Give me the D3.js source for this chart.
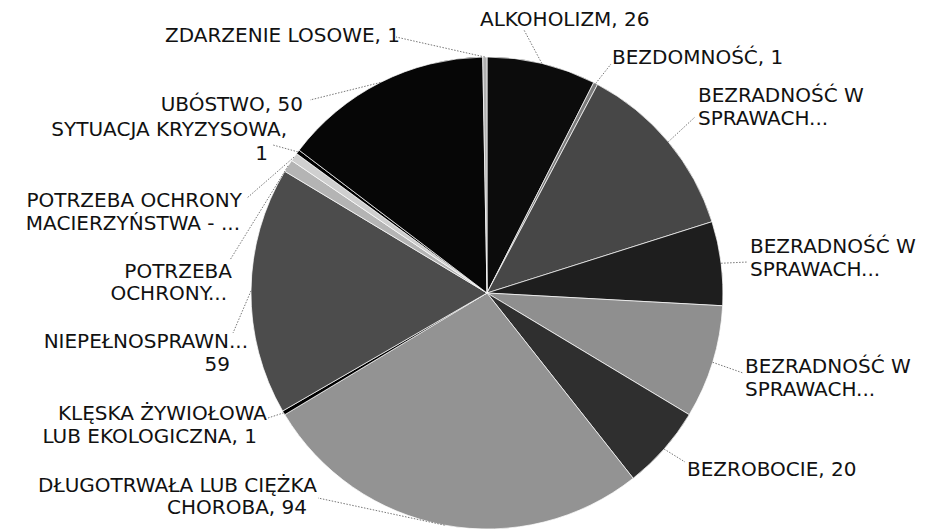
<!DOCTYPE html>
<html>
<head>
<meta charset="utf-8">
<script src="https://cdn.jsdelivr.net/npm/d3@7"></script>
<style>
  body { margin: 0; background: #fff; }
  text { font-family: "DejaVu Sans", sans-serif; font-size: 20px; fill: #111; }
</style>
</head>
<body>
<div id="chart"></div>
<script>
// Data, clockwise from 12 o'clock
const categories = [
    "ALKOHOLIZM", "BEZDOMNOŚĆ", "BEZRADNOŚĆ 1", "BEZRADNOŚĆ 2", "BEZRADNOŚĆ 3",
    "BEZROBOCIE", "DŁUGOTRWAŁA", "KLĘSKA", "NIEPEŁNOSPRAWNOŚĆ", "POTRZEBA OCHRONY",
    "POTRZEBA OCHRONY MACIERZYŃSTWA", "SYTUACJA KRYZYSOWA", "UBÓSTWO", "ZDARZENIE LOSOWE"
];
const values = [26, 1, 43, 20, 27, 20, 94, 1, 59, 3, 2, 1, 50, 1];
const labelLines = [
    ["ALKOHOLIZM, 26"],
    ["BEZDOMNOŚĆ, 1"],
    ["BEZRADNOŚĆ W", "SPRAWACH..."],
    ["BEZRADNOŚĆ W", "SPRAWACH..."],
    ["BEZRADNOŚĆ W", "SPRAWACH..."],
    ["BEZROBOCIE, 20"],
    ["DŁUGOTRWAŁA LUB CIĘŻKA", "CHOROBA, 94"],
    ["KLĘSKA ŻYWIOŁOWA", "LUB EKOLOGICZNA, 1"],
    ["NIEPEŁNOSPRAWN...", "59"],
    ["POTRZEBA", "OCHRONY..."],
    ["POTRZEBA OCHRONY", "MACIERZYŃSTWA - ..."],
    ["SYTUACJA KRYZYSOWA,", "1"],
    ["UBÓSTWO, 50"],
    ["ZDARZENIE LOSOWE, 1"]
];
// grey fills (the source was a greyscale print)
const sliceColors = [
    "#0c0c0c", "#7a7a7a", "#474747", "#1e1e1e", "#8f8f8f", "#2f2f2f", "#939393",
    "#000000", "#4c4c4c", "#b4b4b4", "#cfcfcf", "#000000", "#060606", "#b0b0b0"
];

// Layout: label line positions and the leader end next to the text
const labelLayout = [
    { anchor: "start", lines: [[480, 26]], lead: [524, 30] },
    { anchor: "start", lines: [[612, 64]], lead: [611, 64] },
    { anchor: "start", lines: [[698, 102], [698, 125]], lead: [695, 117] },
    { anchor: "start", lines: [[750, 253], [750, 276]], lead: [748, 262] },
    { anchor: "start", lines: [[745, 373], [745, 396]], lead: [743, 373] },
    { anchor: "start", lines: [[687, 476]], lead: [685, 462] },
    { anchor: "end",   lines: [[317, 492], [307, 514]], lead: [318, 498] },
    { anchor: "end",   lines: [[267, 420], [257, 443]], lead: [268, 418] },
    { anchor: "end",   lines: [[248, 348], [230, 371]], lead: [233, 333] },
    { anchor: "end",   lines: [[232, 278], [227, 300]], lead: [230, 260] },
    { anchor: "end",   lines: [[242, 207], [240, 230]], lead: [247, 198] },
    { anchor: "end",   lines: [[287, 136], [268, 160]], lead: [273, 145] },
    { anchor: "end",   lines: [[303, 111]], lead: [310, 100] },
    { anchor: "end",   lines: [[400, 42]], lead: [396, 37] }
];

const W = 931, H = 530;
const cx = 487, cy = 293, radius = 236;

const svg = d3.select("#chart")
    .append("svg")
    .attr("width", W)
    .attr("height", H);

const g = svg.append("g")
    .attr("transform", `translate(${cx},${cy})`);

const rows = categories.map((c, i) => ({ name: c, value: values[i], i }));

const pie = d3.pie()
    .sort(null)
    .value(d => d.value);

const arcs = pie(rows);

const arc = d3.arc().innerRadius(0).outerRadius(radius);
const edge = d3.arc().innerRadius(radius).outerRadius(radius);

g.selectAll("path.slice")
    .data(arcs)
    .enter()
    .append("path")
    .attr("class", "slice")
    .attr("d", arc)
    .attr("fill", d => sliceColors[d.data.i])
    .attr("stroke", "#fff")
    .attr("stroke-width", 0.7);

// leader lines
g.selectAll("line.leader")
    .data(arcs)
    .enter()
    .append("line")
    .attr("class", "leader")
    .attr("x1", d => edge.centroid(d)[0])
    .attr("y1", d => edge.centroid(d)[1])
    .attr("x2", d => labelLayout[d.data.i].lead[0] - cx)
    .attr("y2", d => labelLayout[d.data.i].lead[1] - cy)
    .attr("stroke", "#777")
    .attr("stroke-width", 1)
    .attr("stroke-dasharray", "1.5,1.5");

// labels
const labels = svg.selectAll("text.label")
    .data(arcs)
    .enter()
    .append("text")
    .attr("class", "label")
    .attr("text-anchor", d => labelLayout[d.data.i].anchor);

labels.selectAll("tspan")
    .data(d => labelLines[d.data.i].map((t, k) => ({ t, p: labelLayout[d.data.i].lines[k] })))
    .enter()
    .append("tspan")
    .attr("x", d => d.p[0])
    .attr("y", d => d.p[1])
    .text(d => d.t);
</script>
</body>
</html>
